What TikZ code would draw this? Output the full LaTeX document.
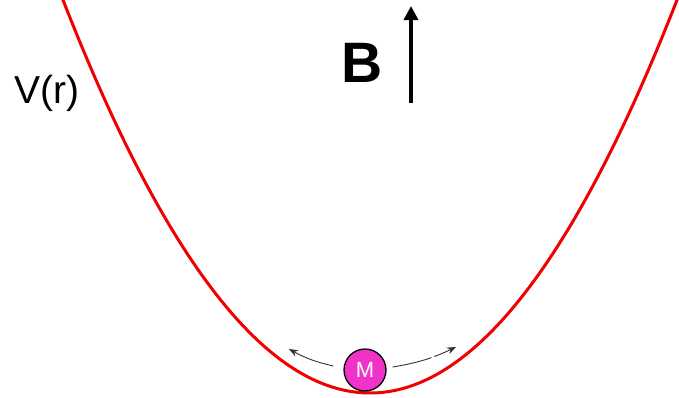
\documentclass[tikz,border=0pt]{standalone}
\usepackage{fontspec}
\setmainfont{Liberation Sans}
\usetikzlibrary{arrows.meta}
\definecolor{ballmag}{RGB}{240,50,200}
\definecolor{curvered}{RGB}{240,0,0}
\begin{document}
\begin{tikzpicture}[x=1pt,y=-1pt,
  potential/.style={draw=curvered,line width=3pt},
  ball/.style={circle,draw=black,line width=1.3pt,fill=ballmag,text=white,minimum size=42pt,inner sep=0pt,font=\fontsize{22}{22}\selectfont},
  swing/.style={draw=black!80,line width=0.9pt,-{Stealth[length=9pt,width=7pt]}},
  field/.style={draw=black,line width=4pt,-{Triangle[length=14pt,width=14pt]}}]
\useasboundingbox (0,0) rectangle (679,397);
\draw[potential] plot[domain=-3.1:3.1,samples=120] ({370+100*\x},{393-41.7*\x*\x});
\node[ball] (m) at (365,370) {M};
\coordinate (lt) at (289,349);
\coordinate (rt) at (456,347);
\draw[swing] (m.west) ++(-10,-4) coordinate (ls) (ls) to[bend left=8] (lt);
\draw[swing,dash pattern=on 40pt off 3pt on 30pt] (m.east) ++(6,-3) coordinate (rs) (rs) to[bend right=8] (rt);
\node[font=\bfseries\fontsize{57}{57}\selectfont,inner sep=0pt] (b) at (362,63) {B};
\coordinate (bbot) at (411,103);
\coordinate (btop) at (411,6);
\draw[field] (bbot) -- (btop);
\node[font=\fontsize{39}{39}\selectfont,inner sep=0pt] (v) at (47,93) {V(r)};
\end{tikzpicture}
\end{document}
